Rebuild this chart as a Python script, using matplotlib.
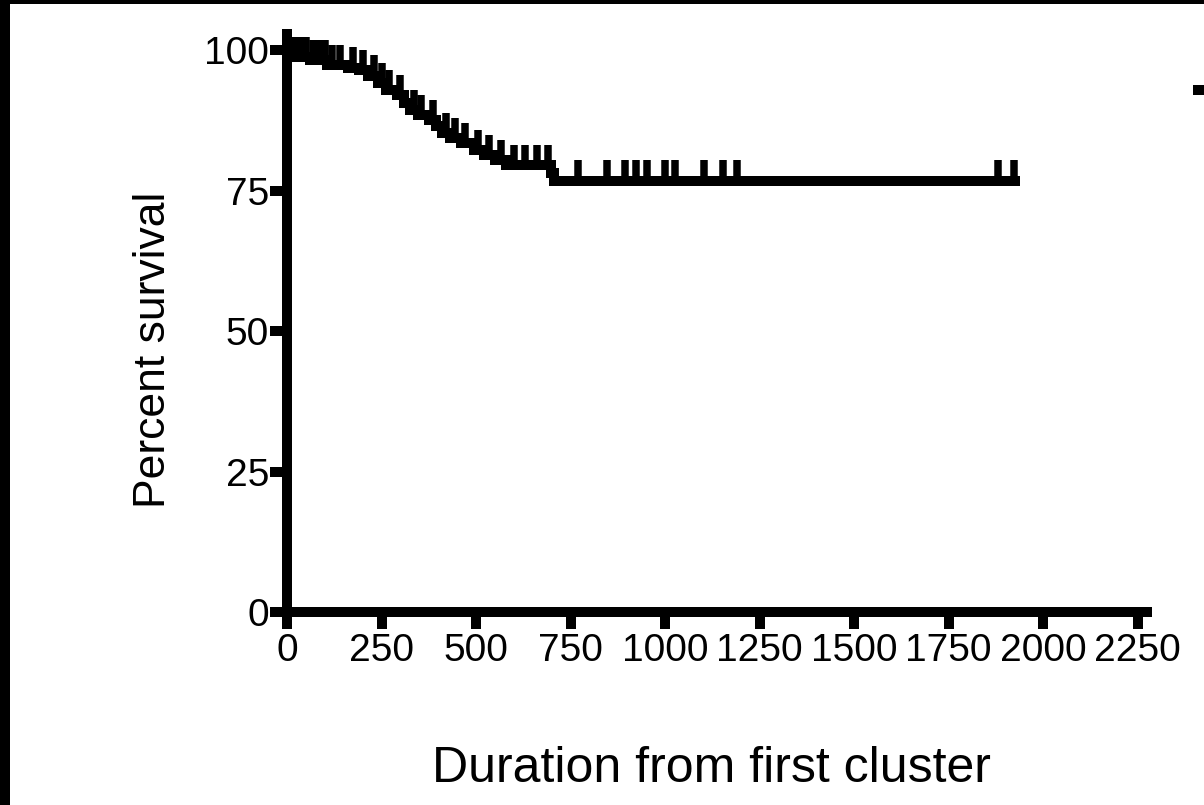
import numpy as np
import matplotlib.pyplot as plt
from matplotlib.lines import Line2D
from matplotlib.patches import Rectangle

# Kaplan-Meier steps (time, survival after event)
event_times = [0, 10, 60, 105, 160, 190, 215, 240, 262, 290, 310, 325, 347, 375,
               395, 410, 430, 460, 495, 520, 550, 580, 698, 706]
survival = [100, 98.8, 98.2, 97.3, 96.9, 96.4, 95.5, 94.2, 92.9, 92.0, 90.6, 89.3,
            88.4, 87.5, 86.6, 85.3, 84.4, 83.5, 82.2, 81.3, 80.4, 79.5, 78.2, 76.8]
end_time = 1925

# censored observations
censor_times = [20, 35, 50, 70, 85, 100, 120, 140, 175, 200, 230, 250, 270, 300,
                335, 355, 385, 420, 445, 470, 505, 535, 565, 600, 630, 660, 690,
                771, 847, 895, 924, 953, 1000, 1026, 1103, 1154, 1189, 1880, 1922]

x_ticks = [0, 250, 500, 750, 1000, 1250, 1500, 1750, 2000, 2250]
y_ticks = [0, 25, 50, 75, 100]

plt.rcParams['font.family'] = ['Liberation Sans', 'DejaVu Sans']

fig = plt.figure(figsize=(12.04, 8.05), dpi=100)
ax = fig.add_axes([0.2384, 0.2398, 0.7143, 0.718])

lw = 7.2
t = np.array(event_times + [end_time], dtype=float)
s = np.array(survival + [survival[-1]], dtype=float)
ax.step(t, s, where='post', color='black', lw=lw, solid_joinstyle='miter')

# censor ticks going up from the curve
ct = np.array(censor_times, dtype=float)
idx = np.searchsorted(np.array(event_times, dtype=float), ct, side='right') - 1
cs = np.array(survival)[idx]
ax.vlines(ct, cs, cs + 3.6, color='black', lw=5.4, capstyle='butt')

ax.set_xlim(0, 2275)
ax.set_ylim(0, 102.9)
ax.set_xticks(x_ticks)
ax.set_yticks(y_ticks)

for side in ['top', 'right']:
    ax.spines[side].set_visible(False)
for side in ['left', 'bottom']:
    ax.spines[side].set_linewidth(lw)
    ax.spines[side].set_capstyle('projecting')

ax.tick_params(direction='out', length=12, width=lw, labelsize=28,
               colors='black')
ax.tick_params(axis='x', pad=3)
ax.tick_params(axis='y', pad=1)

ax.set_xlabel('Duration from first cluster', fontsize=36)
ax.set_ylabel('Percent survival', fontsize=32)
ax.xaxis.set_label_coords(0.494, -0.232)
ax.yaxis.set_label_coords(-0.132, 0.453)

# frame pieces and the clipped legend stub at the right edge
fig.add_artist(Rectangle((0, 0), 10 / 1204, 1, transform=fig.transFigure,
                         color='black', lw=0))
fig.add_artist(Rectangle((0, 1 - 4 / 805), 1, 4 / 805, transform=fig.transFigure,
                         color='black', lw=0))
fig.add_artist(Line2D([0.991, 1.0], [1 - 90 / 805, 1 - 90 / 805],
                      transform=fig.transFigure, color='black', lw=lw,
                      solid_capstyle='butt'))

fig.savefig('out.png', dpi=100, facecolor='white')
